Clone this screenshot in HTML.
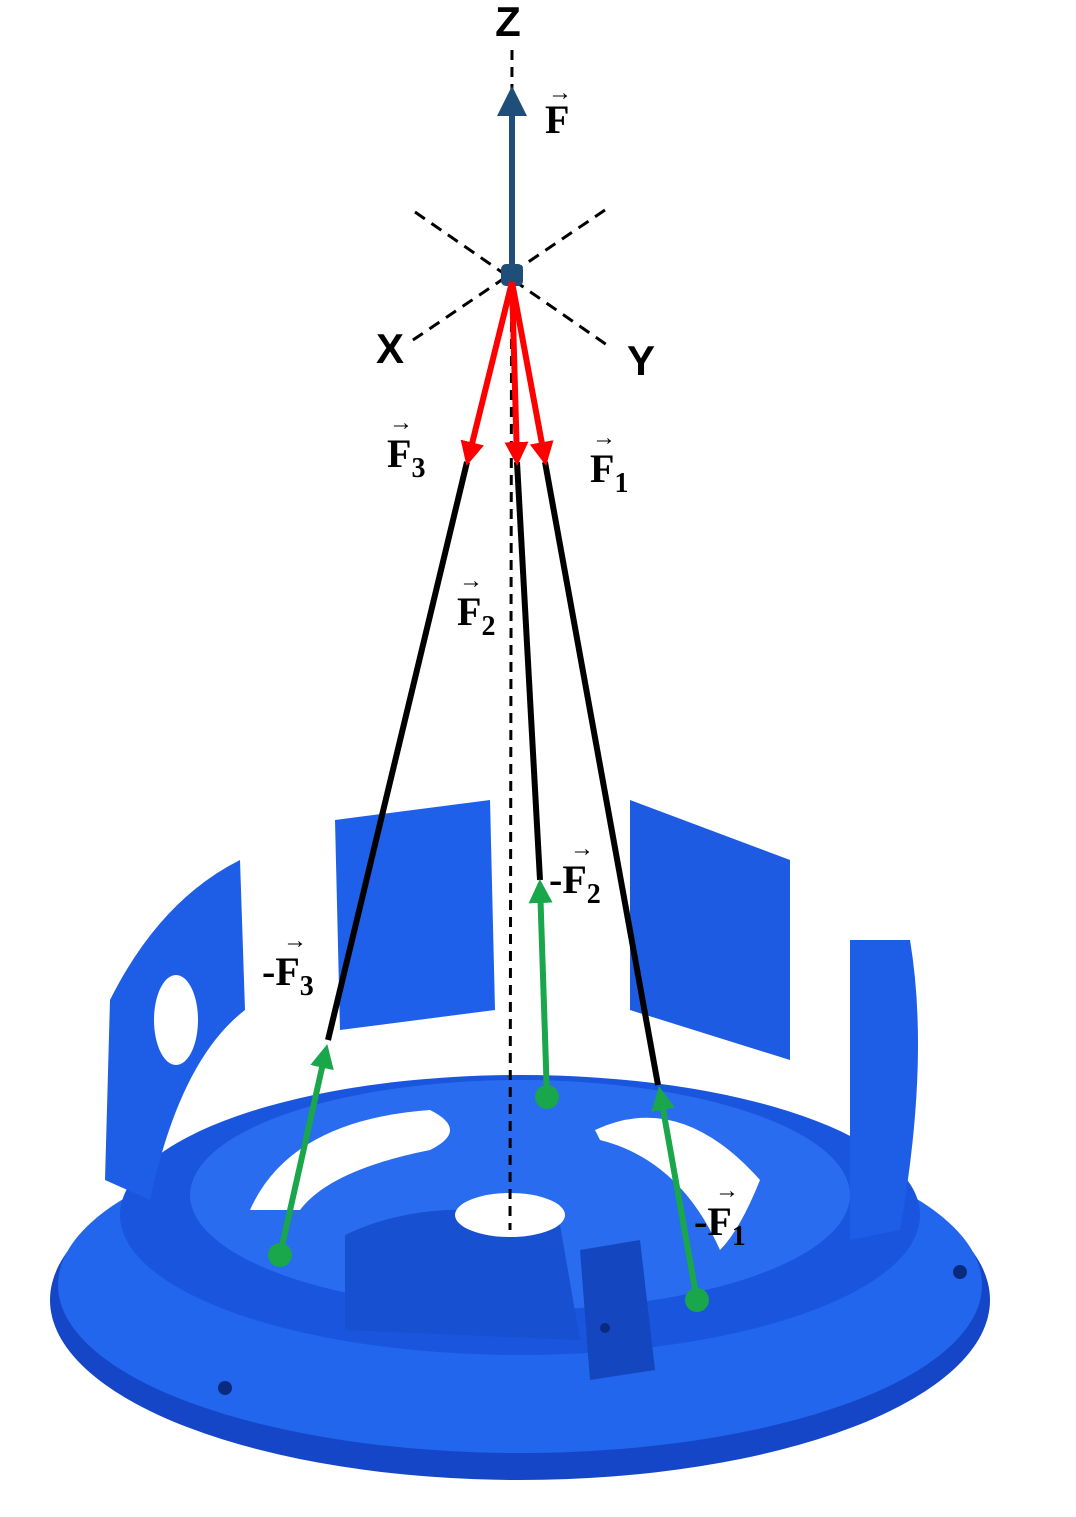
<!DOCTYPE html>
<html><head><meta charset="utf-8"><style>
html,body{margin:0;padding:0;background:#fff;}
svg{display:block;}
text{font-family:"Liberation Serif",serif;font-weight:bold;fill:#000;}
.ax{font-family:"Liberation Sans",sans-serif;font-weight:bold;}
</style></head><body>
<svg width="1076" height="1517" viewBox="0 0 1076 1517">
<defs>
<marker id="ar" markerWidth="6" markerHeight="6" refX="5" refY="3" orient="auto" markerUnits="strokeWidth"><path d="M0,0 L6,3 L0,6 Z" fill="context-stroke"/></marker>
<marker id="ab" markerWidth="5" markerHeight="5" refX="4" refY="2.5" orient="auto" markerUnits="strokeWidth"><path d="M0,0 L5,2.5 L0,5 Z" fill="#1f4e79"/></marker>
<marker id="arr" markerWidth="4" markerHeight="4" refX="3" refY="2" orient="auto" markerUnits="strokeWidth"><path d="M0,0 L4,2 L0,4 Z" fill="#ff0000"/></marker>
<marker id="ag" markerWidth="4" markerHeight="4" refX="3" refY="2" orient="auto" markerUnits="strokeWidth"><path d="M0,0 L4,2 L0,4 Z" fill="#1aa64a"/></marker>
</defs>
<rect width="1076" height="1517" fill="#fff"/>
<!-- base part -->
<g>
<ellipse cx="520" cy="1300" rx="470" ry="180" fill="#1546c8"/>
<ellipse cx="520" cy="1285" rx="462" ry="168" fill="#2266ee"/>
<ellipse cx="520" cy="1215" rx="400" ry="140" fill="#1a55dd"/>
<ellipse cx="520" cy="1195" rx="330" ry="115" fill="#2a6cf0"/>
<path d="M110,1000 Q160,900 240,860 L245,1010 Q180,1060 150,1200 L105,1180 Z" fill="#1e5ee6"/>
<path d="M335,820 L490,800 L495,1010 L340,1030 Z" fill="#1f60ea"/>
<path d="M630,800 L790,860 L790,1060 L630,1010 Z" fill="#1d5be3"/>
<path d="M850,940 L910,940 Q930,1060 900,1230 L850,1240 Z" fill="#1e5ee6"/>
<path d="M345,1235 Q440,1190 560,1225 L580,1340 L345,1330 Z" fill="#1750d0"/>
<path d="M580,1250 L640,1240 L655,1370 L590,1380 Z" fill="#1446bf"/>
<ellipse cx="510" cy="1215" rx="55" ry="22" fill="#fff"/>
<path d="M250,1210 Q290,1120 430,1110 Q470,1130 430,1150 Q330,1170 300,1210 Z" fill="#fff"/>
<path d="M595,1130 Q680,1090 760,1180 Q740,1230 720,1250 Q680,1160 600,1140 Z" fill="#fff"/>
<ellipse cx="176" cy="1020" rx="22" ry="45" fill="#fff"/>
<circle cx="225" cy="1388" r="7" fill="#0a2a80"/>
<circle cx="960" cy="1272" r="7" fill="#0a2a80"/>
<circle cx="605" cy="1328" r="5" fill="#0a2a80"/>
</g>
<!-- axes -->
<line x1="512" y1="50" x2="510" y2="1230" stroke="#000" stroke-width="3" stroke-dasharray="10,7"/>
<line x1="415" y1="212" x2="607" y2="345" stroke="#000" stroke-width="3" stroke-dasharray="12,8"/>
<line x1="605" y1="210" x2="410" y2="342" stroke="#000" stroke-width="3" stroke-dasharray="12,8"/>
<text x="508" y="36" font-size="42" text-anchor="middle" class="ax">Z</text>
<text x="390" y="363" font-size="42" text-anchor="middle" class="ax">X</text>
<text x="641" y="375" font-size="42" text-anchor="middle" class="ax">Y</text>
<!-- F arrow -->
<line x1="512" y1="275" x2="512" y2="92" stroke="#1f4e79" stroke-width="6" marker-end="url(#ab)"/>
<rect x="501" y="264" width="22" height="22" rx="5" fill="#1f4e79"/>
<!-- cables -->
<g stroke="#000" stroke-width="6" fill="none">
<line x1="467" y1="462" x2="328" y2="1040"/>
<line x1="517" y1="462" x2="540" y2="880"/>
<line x1="545" y1="462" x2="658" y2="1085"/>
</g>
<g stroke="#ff0000" stroke-width="6">
<line x1="512" y1="282" x2="468" y2="460" marker-end="url(#arr)"/>
<line x1="512" y1="282" x2="517" y2="460" marker-end="url(#arr)"/>
<line x1="512" y1="282" x2="545" y2="460" marker-end="url(#arr)"/>
</g>
<g stroke="#1aa64a" stroke-width="6">
<line x1="280" y1="1255" x2="326" y2="1050" marker-end="url(#ag)"/>
<line x1="547" y1="1097" x2="540" y2="885" marker-end="url(#ag)"/>
<line x1="697" y1="1300" x2="660" y2="1092" marker-end="url(#ag)"/>
</g>
<g fill="#1aa64a">
<circle cx="280" cy="1255" r="12"/><circle cx="547" cy="1097" r="12"/><circle cx="697" cy="1300" r="12"/>
</g>
<!-- labels -->
<g font-size="40">
<text x="545" y="133">F</text>
<text x="548" y="100" font-size="24">→</text>
<text x="387" y="467">F<tspan font-size="28" dy="10">3</tspan></text>
<text x="389" y="430" font-size="24">→</text>
<text x="590" y="482">F<tspan font-size="28" dy="10">1</tspan></text>
<text x="592" y="445" font-size="24">→</text>
<text x="457" y="625">F<tspan font-size="28" dy="10">2</tspan></text>
<text x="459" y="588" font-size="24">→</text>
<text x="549" y="893">-F<tspan font-size="28" dy="10">2</tspan></text>
<text x="570" y="856" font-size="24">→</text>
<text x="262" y="985">-F<tspan font-size="28" dy="10">3</tspan></text>
<text x="283" y="948" font-size="24">→</text>
<text x="694" y="1235">-F<tspan font-size="28" dy="10">1</tspan></text>
<text x="715" y="1198" font-size="24">→</text>
</g>
</svg>
</body></html>
